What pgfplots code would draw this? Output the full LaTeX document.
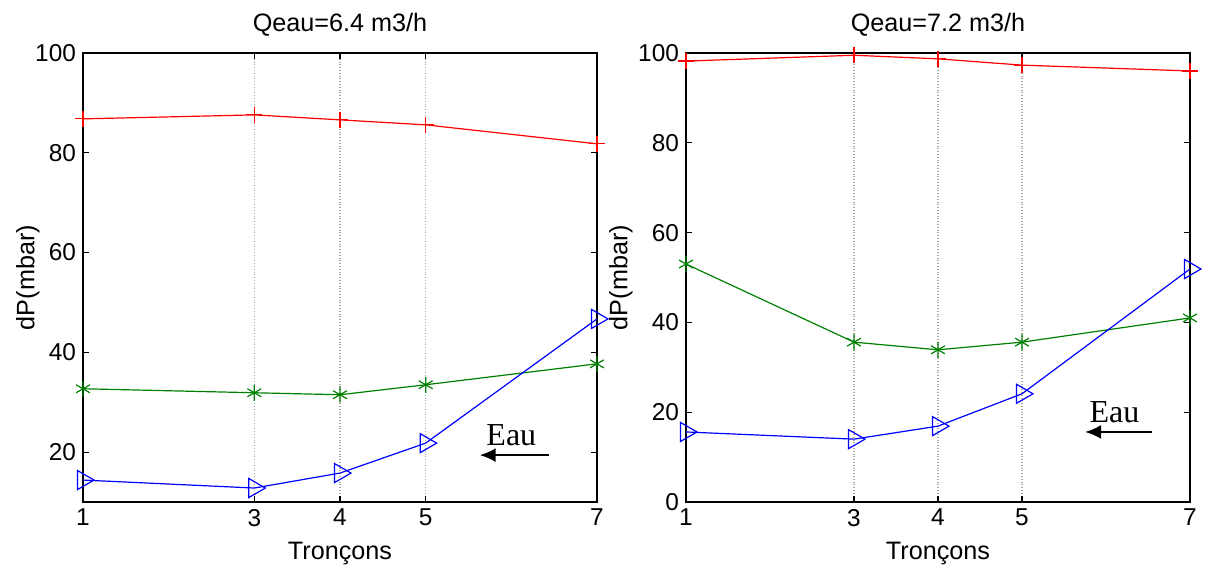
\documentclass[border=0pt]{standalone}
\usepackage{pgfplots}
\pgfplotsset{compat=1.18}
\usetikzlibrary{arrows.meta}
\usepackage{fontspec}
\setmainfont{Liberation Sans}
\newfontfamily\serif{Liberation Serif}
\tikzset{
  eau/.style={font=\serif\fontsize{16}{18}\selectfont, anchor=base, inner sep=0pt},
  arr/.style={-{Latex[length=8pt,width=7pt]}, line width=1.2pt},
}
\pgfplotsset{
  myax/.style={
    scale only axis,
    width=257pt, height=224.5pt,
    xmin=1, xmax=7,
    xtick={1,3,4,5,7},
    xmajorgrids,
    grid style={gray!70, densely dotted, line width=0.6pt},
    tick align=inside,
    major tick length=3pt,
    tick style={black, line width=0.6pt},
    axis line style={line width=0.8pt},
    ticklabel style={font=\fontsize{12.2}{14}\selectfont},
    /pgf/number format/assume math mode=true,
    label style={font=\fontsize{12.6}{14}\selectfont},
    title style={font=\fontsize{12.6}{14}\selectfont, yshift=-1pt},
    xlabel={Tron\c{c}ons},
    ylabel={dP(mbar)},
    xlabel style={yshift=-1pt},
    ylabel style={yshift=-4pt},
    every axis plot/.append style={line width=0.6pt},
  },
  rd/.style={red, mark=+, mark size=4pt},
  gr/.style={green!50!black, mark=asterisk, mark size=4pt},
  bl/.style={blue, mark=triangle, mark options={rotate=-90, fill=none}, mark size=5.5pt},
}
\begin{document}
\begin{tikzpicture}
\useasboundingbox (0,0) rectangle (603.5pt,285pt);
\begin{axis}[myax, at={(41.5pt,34pt)}, ymin=10, ymax=100, ytick={20,40,60,80,100},
  title={Qeau=6.4 m3/h}, ylabel style={yshift=-5pt}]
\addplot[rd] coordinates {(1,86.8) (3,87.6) (4,86.6) (5,85.6) (7,81.8)};
\addplot[gr] coordinates {(1,32.7) (3,31.9) (4,31.5) (5,33.5) (7,37.7)};
\addplot[bl] coordinates {(1,14.4) (3,12.8) (4,15.8) (5,21.8) (7,46.7)};
\draw[arr] (axis cs:6.44,19.4) -- (axis cs:5.63,19.4);
\node[eau] at (axis cs:6.0,21.4) {Eau};
\end{axis}
\begin{axis}[myax, at={(343pt,34pt)}, width=252pt, ymin=0, ymax=100, ytick={0,20,40,60,80,100},
  title={Qeau=7.2 m3/h}]
\addplot[rd] coordinates {(1,98.2) (3,99.5) (4,98.7) (5,97.3) (7,96.0)};
\addplot[gr] coordinates {(1,53.0) (3,35.6) (4,33.9) (5,35.6) (7,41.0)};
\addplot[bl] coordinates {(1,15.6) (3,14.0) (4,16.9) (5,24.1) (7,51.9)};
\draw[arr] (axis cs:6.55,15.6) -- (axis cs:5.75,15.6);
\node[eau] at (axis cs:6.1,17.8) {Eau};
\end{axis}
\end{tikzpicture}
\end{document}
